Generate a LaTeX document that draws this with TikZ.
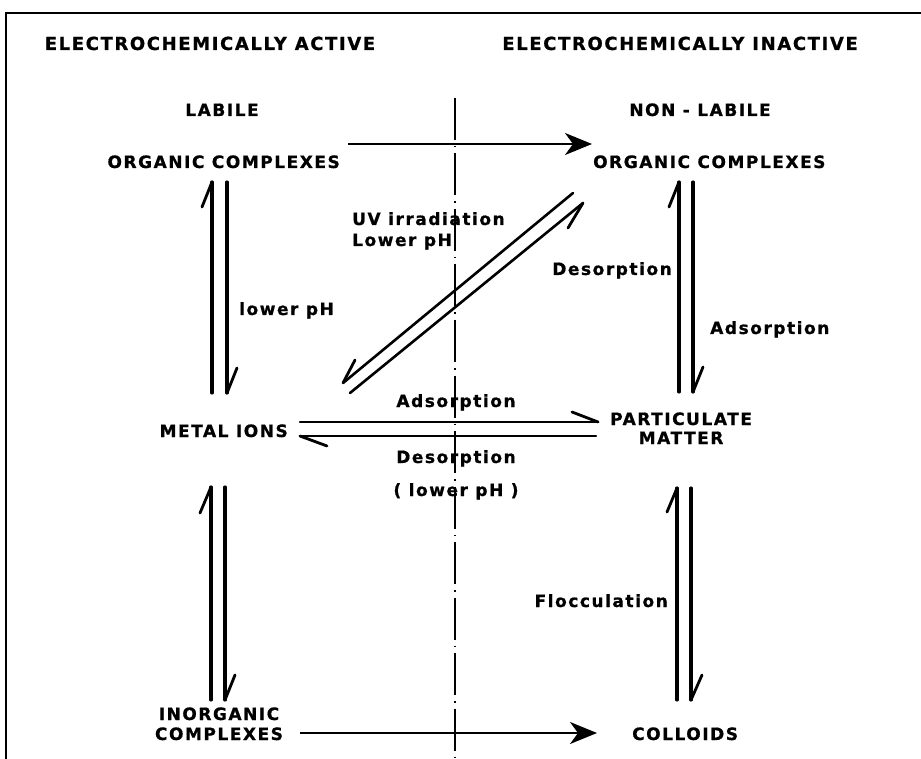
\documentclass[tikz,border=0pt]{standalone}
\usepackage{fontspec}
\setmainfont{DejaVu Sans}[LetterSpace=9, BoldFeatures={FakeBold=0.8}]
\usetikzlibrary{arrows.meta}
\begin{document}
\begin{tikzpicture}[x=1pt,y=-1pt,
  lbl/.style={font=\bfseries\fontsize{17}{19}\selectfont, inner sep=0pt, anchor=base},
  lbll/.style={lbl, anchor=base west},
  lblr/.style={lbl, anchor=base east},
  title/.style={lbl, font=\bfseries\fontsize{18}{20}\selectfont},
  pairline/.style={line width=3.1pt, line cap=round},
  hline/.style={line width=2.6pt, line cap=round},
  barb/.style={line width=2.8pt, line cap=round},
  bigarrow/.style={line width=2.1pt, -{Stealth[length=27pt, width=22pt, inset=8pt]}},
  divider/.style={line width=1.2pt, dash pattern=on 42pt off 6pt on 1.5pt off 6pt},
  frameline/.style={line width=2pt}]
\useasboundingbox (0,0) rectangle (921,759);

% frame (open at right and bottom)
\coordinate (fTL) at (6,13);
\coordinate (fTR) at (921,13);
\coordinate (fBL) at (6,759);
\draw[frameline] (fBL) -- (fTL) -- (fTR);

% divider
\coordinate (dTop) at (455,98);
\coordinate (dBot) at (455,759);
\draw[divider] (dTop) -- (dBot);

% headings
\node[title] (hA) at (210,50) {ELECTROCHEMICALLY ACTIVE};
\node[title, anchor=base east] (hI) at (858,50) {ELECTROCHEMICALLY INACTIVE};
\node[lbl] (lab) at (222,116) {LABILE};
\node[lbl] (nlab) at (700,116) {NON - LABILE};

% species
\node[lblr] (ocL) at (340,168) {ORGANIC COMPLEXES};
\node[lbll] (ocR) at (593,168) {ORGANIC COMPLEXES};
\node[lblr] (mi) at (288,437) {METAL IONS};
\node[lbll] (pm1) at (610,425) {PARTICULATE};
\node[lbl] (pm2) at (pm1.base) [yshift=-19pt] {MATTER};
\node[lbl] (ic1) at (219,720) {INORGANIC};
\node[lbl] (ic2) at (219,740) {COMPLEXES};
\node[lbll] (col) at (632,740) {COLLOIDS};

% labels
\node[lbll] (uv) at (352,225) {UV irradiation};
\node[lbll] (lph1) at (352,246) {Lower pH};
\node[lbll] (lph2) at (239,315) {lower pH};
\node[lblr] (des1) at (672,275) {Desorption};
\node[lbll] (ads1) at (710,334) {Adsorption};
\node[lbl] (ads2) at (456,407) {Adsorption};
\node[lbl] (des2) at (456,463) {Desorption};
\node[lbl] (lph3) at (456,496) {( lower pH )};
\node[lblr] (floc) at (668,607) {Flocculation};

% top and bottom one-way arrows
\coordinate (tA) at (348,144);
\coordinate (tB) at (592,144);
\draw[bigarrow] (tA) -- (tB);
\coordinate (bA) at (300,733);
\coordinate (bB) at (597,733);
\draw[bigarrow] (bA) -- (bB);

% left upper pair (organic complexes <-> metal ions)
\coordinate (a1) at (212,393); \coordinate (a2) at (212,182);
\coordinate (a3) at (227,182); \coordinate (a4) at (227,393);
\draw[pairline] (a1) -- (a2);
\draw[barb] (a2) -- ++(-10,25);
\draw[pairline] (a3) -- (a4);
\draw[barb] (a4) -- ++(10,-25);

% right upper pair
\coordinate (b1) at (679,392); \coordinate (b2) at (679,182);
\coordinate (b3) at (693,182); \coordinate (b4) at (693,392);
\draw[pairline] (b1) -- (b2);
\draw[barb] (b2) -- ++(-10,25);
\draw[pairline] (b3) -- (b4);
\draw[barb] (b4) -- ++(10,-25);

% left lower pair
\coordinate (c1) at (211,700); \coordinate (c2) at (211,487);
\coordinate (c3) at (225,487); \coordinate (c4) at (225,700);
\draw[pairline] (c1) -- (c2);
\draw[barb] (c2) -- ++(-11,26);
\draw[pairline] (c3) -- (c4);
\draw[barb] (c4) -- ++(10,-25);

% right lower pair
\coordinate (e1) at (677,700); \coordinate (e2) at (677,488);
\coordinate (e3) at (691,488); \coordinate (e4) at (691,700);
\draw[pairline] (e1) -- (e2);
\draw[barb] (e2) -- ++(-10,24);
\draw[pairline] (e3) -- (e4);
\draw[barb] (e4) -- ++(11,-25);

% horizontal pair (metal ions <-> particulate matter)
\coordinate (h1) at (300,422); \coordinate (h2) at (598,422);
\coordinate (h3) at (596,436); \coordinate (h4) at (300,436);
\draw[hline] (h1) -- (h2);
\draw[barb] (h2) -- ++(-26,-10);
\draw[hline] (h3) -- (h4);
\draw[barb] (h4) -- ++(27,10);

% diagonal pair
\coordinate (g1) at (573,193); \coordinate (g2) at (343,383);
\coordinate (g3) at (350,393); \coordinate (g4) at (583,203);
\draw[hline] (g1) -- (g2);
\draw[barb] (g2) -- ++(12,-23);
\draw[hline] (g3) -- (g4);
\draw[barb] (g4) -- ++(-15,25);
\end{tikzpicture}
\end{document}
